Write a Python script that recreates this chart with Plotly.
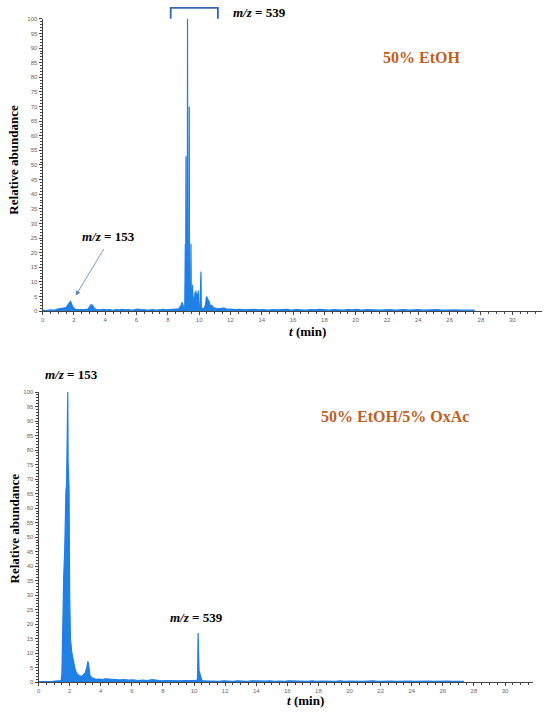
import plotly.graph_objects as go

# 50% EtOH chromatogram (t in min, relative abundance in %)
t_etoh = [0.0, 0.25, 0.5, 0.75, 0.9, 1.1, 1.3, 1.5, 1.6, 1.7, 1.78, 1.85, 1.95, 2.1, 2.3, 2.5, 2.7, 2.9,
          3.0, 3.1, 3.2, 3.3, 3.45, 3.7, 3.9, 4.1, 4.3, 4.5, 4.7, 4.9, 5.1, 5.3, 5.5, 5.7, 5.9, 6.1, 6.3,
          6.5, 6.7, 6.9, 7.1, 7.3, 7.5, 7.7, 7.9, 8.1, 8.3, 8.5, 8.7, 8.85, 8.92, 9.0, 9.08, 9.12, 9.14,
          9.16, 9.18, 9.24, 9.26, 9.28, 9.35, 9.37, 9.39, 9.46, 9.48, 9.5, 9.55, 9.58, 9.61, 9.65, 9.68,
          9.74, 9.77, 9.8, 9.83, 9.88, 9.9, 9.95, 9.98, 10.05, 10.12, 10.14, 10.3, 10.4, 10.47, 10.52,
          10.58, 10.65, 10.72, 10.8, 10.9, 11.0, 11.2, 11.4, 11.6, 11.8, 12.0, 12.3, 12.6, 12.9, 13.2,
          13.5, 13.8, 14.1, 14.4, 14.7, 15.0, 15.3, 15.6, 15.9, 16.2, 16.5, 16.8, 17.1, 17.4, 17.7, 18.0,
          18.3, 18.6, 18.9, 19.2, 19.5, 19.8, 20.1, 20.4, 20.7, 21.0, 21.3, 21.6, 21.9, 22.2, 22.5, 22.8,
          23.1, 23.4, 23.7, 24.0, 24.3, 24.6, 24.9, 25.2, 25.5, 25.8, 26.1, 26.4, 26.7, 27.0, 27.3, 27.6]
y_etoh = [0.3, 0.2, 0.4, 0.3, 0.6, 0.8, 1.0, 1.2, 2.0, 3.0, 3.3, 2.5, 1.2, 0.6, 0.5, 0.4, 0.5, 0.7,
          1.5, 2.2, 2.0, 1.0, 0.5, 0.4, 0.6, 0.4, 0.5, 0.3, 0.5, 0.4, 0.6, 0.4, 0.5, 0.3, 0.5, 0.7, 0.4,
          0.5, 0.3, 0.4, 0.5, 0.3, 0.4, 0.6, 0.4, 0.5, 0.4, 0.6, 0.8, 2.0, 3.0, 1.5, 0.5, 23, 0.5,
          53, 0.8, 1.0, 100, 1.0, 1.0, 70, 1.0, 2.0, 23, 2.0, 3.0, 9.0, 3.0, 5.0, 2.0,
          6.5, 3.0, 7.0, 2.0, 6.0, 2.0, 7.0, 1.0, 1.0, 13.5, 1.0, 0.8, 2.0, 5.0, 4.5,
          4.0, 3.0, 1.5, 2.0, 1.2, 1.0, 0.8, 0.9, 1.0, 0.6, 0.7, 0.5, 0.6, 0.4, 0.5,
          0.6, 0.4, 0.5, 0.3, 0.5, 0.4, 0.5, 0.6, 0.3, 0.5, 0.4, 0.3, 0.5, 0.4, 0.6, 0.4,
          0.3, 0.5, 0.4, 0.3, 0.5, 0.4, 0.6, 0.3, 0.5, 0.4, 0.5, 0.3, 0.4, 0.5, 0.3, 0.4,
          0.5, 0.3, 0.4, 0.5, 0.3, 0.4, 0.3, 0.5, 0.3, 0.4, 0.3, 0.4, 0.3, 0.4, 0.3, 0.3]

# 50% EtOH/5% OxAc chromatogram
t_oxac = [0.0, 0.3, 0.6, 0.9, 1.1, 1.3, 1.45, 1.5, 1.55, 1.62, 1.68, 1.72, 1.76, 1.8, 1.85, 1.88, 1.9,
          1.93, 1.96, 2.0, 2.05, 2.14, 2.24, 2.35, 2.46, 2.6, 2.78, 2.9, 3.0, 3.1, 3.17, 3.22, 3.3, 3.4,
          3.55, 3.7, 3.9, 4.1, 4.3, 4.5, 4.7, 4.9, 5.2, 5.5, 5.8, 6.1, 6.4, 6.7, 7.0, 7.3, 7.6, 7.9, 8.2,
          8.5, 8.8, 9.1, 9.4, 9.7, 10.0, 10.15, 10.22, 10.26, 10.29, 10.32, 10.38, 10.42, 10.5, 10.7,
          11.0, 11.3, 11.6, 11.9, 12.2, 12.5, 12.8, 13.1, 13.4, 13.7, 14.0, 14.3, 14.6, 14.9, 15.2, 15.5,
          15.8, 16.1, 16.4, 16.7, 17.0, 17.3, 17.6, 17.9, 18.2, 18.5, 18.8, 19.1, 19.4, 19.7, 20.0, 20.3,
          20.6, 20.9, 21.2, 21.5, 21.8, 22.1, 22.4, 22.7, 23.0, 23.3, 23.6, 23.9, 24.2, 24.5, 24.8, 25.1,
          25.4, 25.7, 26.0, 26.3, 26.6, 26.9, 27.1, 27.35]
y_oxac = [0.2, 0.1, 0.2, 0.3, 0.4, 0.5, 0.6, 3.0, 25, 37, 45, 62, 66, 68, 90, 100, 76,
          72, 67, 30, 15, 10, 7.0, 4.5, 3.0, 2.3, 2.0, 2.5, 3.2, 5.0, 7.2, 6.0, 2.5, 1.6,
          1.2, 1.0, 1.1, 0.9, 1.2, 1.1, 0.9, 1.0, 0.8, 0.9, 0.7, 0.8, 0.6, 0.7, 0.6, 0.9, 0.6, 0.5, 0.6,
          0.5, 0.6, 0.5, 0.6, 0.7, 0.8, 0.6, 1.0, 17, 10, 4.0, 3.0, 2.0, 0.6, 0.5,
          0.4, 0.5, 0.3, 0.5, 0.4, 0.3, 0.5, 0.4, 0.3, 0.5, 0.4, 0.3, 0.4, 0.5, 0.3, 0.4,
          0.3, 0.5, 0.4, 0.3, 0.4, 0.3, 0.5, 0.3, 0.4, 0.3, 0.4, 0.3, 0.5, 0.3, 0.4, 0.3,
          0.4, 0.3, 0.4, 0.5, 0.3, 0.4, 0.3, 0.4, 0.3, 0.4, 0.3, 0.4, 0.3, 0.4, 0.3, 0.4,
          0.3, 0.4, 0.3, 0.4, 0.3, 0.3, 0.4, 0.3]

W, H = 550, 714
blue = "#1f80e6"
serif = "Liberation Serif"
orange = "#c0601e"


def px(x):
    return x / W


def py(y):
    return 1 - y / H


fig = go.Figure()
fig.add_trace(go.Scatter(x=t_etoh, y=y_etoh, mode="lines", fill="tozeroy",
                         line=dict(color=blue, width=1.2), fillcolor=blue,
                         xaxis="x", yaxis="y", showlegend=False))
fig.add_trace(go.Scatter(x=t_oxac, y=y_oxac, mode="lines", fill="tozeroy",
                         line=dict(color=blue, width=1.2), fillcolor=blue,
                         xaxis="x2", yaxis="y2", showlegend=False))

tickfont = dict(family="Arial, Liberation Sans", size=6, color="#666")
ax_common = dict(showline=True, linecolor="#444", linewidth=1, ticks="outside",
                 tickcolor="#444", ticklen=3, tickfont=tickfont, showgrid=False,
                 zeroline=False)
xminor = dict(dtick=0.5, ticklen=2, tickcolor="#444", ticks="outside")
yminor = dict(dtick=1, ticklen=2, tickcolor="#444", ticks="outside")

fig.update_layout(
    width=W, height=H,
    margin=dict(l=0, r=0, t=0, b=0),
    plot_bgcolor="white", paper_bgcolor="white",
    xaxis=dict(domain=[px(40.7), px(542)], range=[0, 31.9], dtick=2, anchor="y",
               minor=xminor, **ax_common),
    yaxis=dict(domain=[py(310.7), py(16)], range=[0, 100], dtick=5, anchor="x",
               minor=yminor, **ax_common),
    xaxis2=dict(domain=[px(36.7), px(533)], range=[0, 31.8], dtick=2, anchor="y2",
                minor=xminor, **ax_common),
    yaxis2=dict(domain=[py(685), py(392.3)], range=[0, 100], dtick=5, anchor="x2",
                minor=yminor, **ax_common),
)

bold = dict(family=serif, size=13, color="black")
notes = [
    # axis titles
    dict(x=px(12), y=py(158), text="<b>Relative abundance</b>", textangle=-90),
    dict(x=px(13), y=py(530), text="<b>Relative abundance</b>", textangle=-90),
    dict(x=px(307), y=py(331), text="<b><i>t</i> (min)</b>"),
    dict(x=px(305), y=py(703), text="<b><i>t</i> (min)</b>"),
    # ion labels
    dict(x=px(258), y=py(10), text="<b><i>m/z</i> = 539</b>"),
    dict(x=px(107), y=py(235), text="<b><i>m/z</i> = 153</b>"),
    dict(x=px(69.5), y=py(375), text="<b><i>m/z</i> = 153</b>"),
    dict(x=px(195.5), y=py(620), text="<b><i>m/z</i> = 539</b>"),
]
annotations = []
for n in notes:
    a = dict(xref="paper", yref="paper", showarrow=False, font=bold,
             xanchor="center", yanchor="middle")
    a.update(n)
    annotations.append(a)

# solvent labels
annotations.append(dict(xref="paper", yref="paper", x=px(462), y=py(44), text="<b>50% EtOH</b>",
                        showarrow=False, font=dict(family=serif, size=16, color=orange)))
annotations.append(dict(xref="paper", yref="paper", x=px(471), y=py(417),
                        text="<b>50% EtOH/5% OxAc</b>",
                        showarrow=False, font=dict(family=serif, size=16, color=orange)))

# arrow pointing at m/z 153 peak
annotations.append(dict(xref="paper", yref="paper", axref="pixel", ayref="pixel",
                        x=px(74), y=py(295), ax=29, ay=-48, text="",
                        showarrow=True, arrowhead=2, arrowsize=1.2, arrowwidth=0.8,
                        arrowcolor="#5b7fc0"))

fig.update_layout(annotations=annotations)

# bracket over the m/z 539 cluster
fig.add_shape(type="path", xref="paper", yref="paper",
              path=f"M {px(169.3)} {py(16)} L {px(169.3)} {py(5)} L {px(216.7)} {py(5)} L {px(216.7)} {py(16)}",
              line=dict(color="#3565b5", width=1.8))

# drop the default page margin so the figure sits at the window's corner
fig.write_html("out.html", config={"displayModeBar": False},
               post_script="document.body.style.margin='0';")
